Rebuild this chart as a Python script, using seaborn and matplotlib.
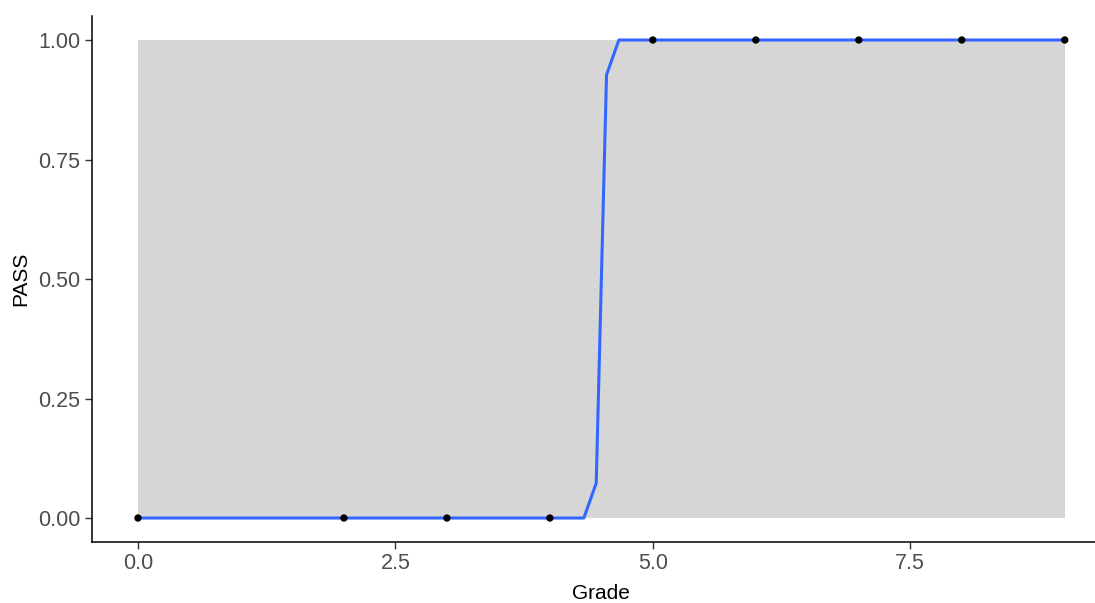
import matplotlib
matplotlib.use("Agg")
import matplotlib.pyplot as plt
import seaborn as sns
import pandas as pd

# observed data
grade = [0, 2, 3, 4, 5, 6, 7, 8, 9]
pass_flag = [0, 0, 0, 0, 1, 1, 1, 1, 1]

# fitted logistic curve
curve_x = [0.0, 4.33, 4.45, 4.55, 4.67, 9.0]
curve_y = [0.0, 0.0, 0.073, 0.927, 1.0, 1.0]

# confidence band (fills the whole 0..1 range)
band_x = [0.0, 9.0]
band_lo = [0.0, 0.0]
band_hi = [1.0, 1.0]

df = pd.DataFrame({"Grade": grade, "PASS": pass_flag})
fit = pd.DataFrame({"Grade": curve_x, "PASS": curve_y})

sns.set_style("ticks")
plt.rcParams["font.family"] = ["Liberation Sans", "DejaVu Sans"]

fig = plt.figure(figsize=(10.95, 6.03), dpi=100)
ax = fig.add_axes([0.0837, 0.1013, 0.931, 0.872])

ax.fill_between(band_x, band_lo, band_hi, color="#D6D6D6", lw=0, zorder=1)
sns.lineplot(data=fit, x="Grade", y="PASS", ax=ax, color="#3366FF", lw=2.2, zorder=3)
sns.scatterplot(data=df, x="Grade", y="PASS", ax=ax, color="black", s=28,
                edgecolor="none", zorder=4)

ax.set_xlim(-0.45, 9.45)
ax.set_ylim(-0.05, 1.05)
ax.set_xticks([0, 2.5, 5, 7.5])
ax.set_xticklabels(["0.0", "2.5", "5.0", "7.5"])
ax.set_yticks([0, 0.25, 0.5, 0.75, 1.0])
ax.set_yticklabels(["0.00", "0.25", "0.50", "0.75", "1.00"])

for side in ["top", "right"]:
    ax.spines[side].set_visible(False)
for side in ["left", "bottom"]:
    ax.spines[side].set_color("black")
    ax.spines[side].set_linewidth(1.1)

ax.tick_params(axis="both", length=5, width=1, color="#333333",
               labelsize=15.5, labelcolor="#4D4D4D", pad=3)
ax.set_xlabel("Grade", fontsize=15, color="black", labelpad=7)
ax.set_ylabel("PASS", fontsize=15, color="black", labelpad=6)

fig.savefig("out.png", dpi=100)
plt.close(fig)
